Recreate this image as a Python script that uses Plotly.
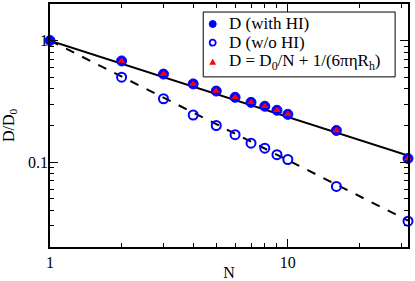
import math
import plotly.graph_objects as go

N = [1, 2, 3, 4, 5, 6, 7, 8, 9, 10, 16, 32]
D_with_HI = [1.0, 0.68, 0.53, 0.44, 0.384, 0.341, 0.31, 0.288, 0.267, 0.247, 0.182, 0.107]
D_wo_HI = [1.0, 0.50, 0.332, 0.244, 0.20, 0.168, 0.143, 0.130, 0.115, 0.105, 0.063, 0.0326]
D_formula_N = [2, 3, 4, 5, 6, 7, 8, 9, 10, 16, 32]
D_formula = [0.68, 0.53, 0.44, 0.384, 0.341, 0.31, 0.288, 0.267, 0.247, 0.182, 0.107]
fit_N = [1, 32]
fit_with = [1.0, 0.113]
fit_wo = [1.0, 0.033]
legend_labels = ["D (with HI)", "D (w/o HI)", "D = D<sub>0</sub>/N + 1/(6πηR<sub>h</sub>)"]

FONT = "Liberation Serif, Times New Roman, serif"
BLUE = "#0000ff"
RED = "#ff0000"

fig = go.Figure()
fig.add_trace(go.Scatter(x=fit_N, y=fit_with, mode="lines", line=dict(color="black", width=2),
                         showlegend=False, hoverinfo="skip", cliponaxis=False))
fig.add_trace(go.Scatter(x=fit_N, y=fit_wo, mode="lines", line=dict(color="black", width=2, dash="dash"),
                         showlegend=False, hoverinfo="skip", cliponaxis=False))
fig.add_trace(go.Scatter(x=N, y=D_with_HI, mode="markers", name=legend_labels[0], cliponaxis=False,
                         showlegend=False,
                         marker=dict(symbol="circle", size=10, color=BLUE, line=dict(color=BLUE, width=1))))
fig.add_trace(go.Scatter(x=N[1:], y=D_wo_HI[1:], mode="markers", name=legend_labels[1], cliponaxis=False,
                         showlegend=False,
                         marker=dict(symbol="circle-open", size=9, color=BLUE, line=dict(color=BLUE, width=2))))
fig.add_trace(go.Scatter(x=D_formula_N, y=D_formula, mode="markers", cliponaxis=False,
                         name=legend_labels[2], showlegend=False,
                         marker=dict(symbol="triangle-up", size=7, color=RED, line=dict(width=0))))

axis_common = dict(type="log", showgrid=False, zeroline=False, showline=True, linecolor="black",
                   linewidth=1.5, mirror="ticks", ticks="inside", ticklen=8, tickwidth=1,
                   tickcolor="black", automargin=False,
                   tickfont=dict(family=FONT, size=16, color="black"))

fig.update_xaxes(**axis_common, range=[0, math.log10(32)], tickvals=[1, 10], ticktext=["1", "10"],
                 minor=dict(ticks="inside", ticklen=4, tickcolor="black",
                            tickvals=[2, 3, 4, 5, 6, 7, 8, 9, 20, 30]),
                 title=dict(text="N", font=dict(family=FONT, size=16, color="black")))
fig.update_yaxes(**axis_common, range=[math.log10(0.02), math.log10(2)], tickvals=[0.1, 1], ticktext=["0.1", "1"],
                 ticklabelstandoff=-3,
                 minor=dict(ticks="inside", ticklen=4, tickcolor="black",
                            tickvals=[0.02, 0.03, 0.04, 0.05, 0.06, 0.07, 0.08, 0.09,
                                      0.2, 0.3, 0.4, 0.5, 0.6, 0.7, 0.8, 0.9, 2]),
                 title=dict(text="D/D<sub>0</sub>", font=dict(family=FONT, size=16, color="black")))

# manual legend box (paper coordinates)
shapes = [dict(type="rect", xref="paper", yref="paper", x0=0.428, x1=0.964, y0=0.700, y1=0.967,
               line=dict(color="black", width=1), fillcolor="white", layer="above")]
item_y = [0.9177, 0.8407, 0.7613]
mx = 0.4545
shapes.append(dict(type="circle", xref="paper", yref="paper", xsizemode="pixel", ysizemode="pixel",
                   xanchor=mx, yanchor=item_y[0], x0=-3.5, x1=3.5, y0=-3.5, y1=3.5,
                   fillcolor=BLUE, line=dict(color=BLUE, width=1), layer="above"))
shapes.append(dict(type="circle", xref="paper", yref="paper", xsizemode="pixel", ysizemode="pixel",
                   xanchor=mx, yanchor=item_y[1], x0=-3, x1=3, y0=-3, y1=3,
                   fillcolor="rgba(0,0,0,0)", line=dict(color=BLUE, width=1.8), layer="above"))
shapes.append(dict(type="path", xref="paper", yref="paper", xsizemode="pixel", ysizemode="pixel",
                   xanchor=mx, yanchor=item_y[2], path="M -3 -2.5 L 3 -2.5 L 0 3 Z",
                   fillcolor=RED, line=dict(color=RED, width=0.5), layer="above"))
annotations = [dict(xref="paper", yref="paper", x=0.4944, y=yy, xanchor="left", yanchor="middle",
                    text=t, showarrow=False, font=dict(family=FONT, size=17, color="black"))
               for t, yy in zip(legend_labels, item_y)]

fig.update_layout(
    width=415, height=281, margin=dict(l=50, r=7, t=4, b=34),
    plot_bgcolor="white", paper_bgcolor="white", showlegend=False,
    shapes=shapes, annotations=annotations,
)
fig.write_html("out.html", config={"displayModeBar": False},
               post_script="document.body.style.margin='0';document.body.style.overflow='hidden';")
